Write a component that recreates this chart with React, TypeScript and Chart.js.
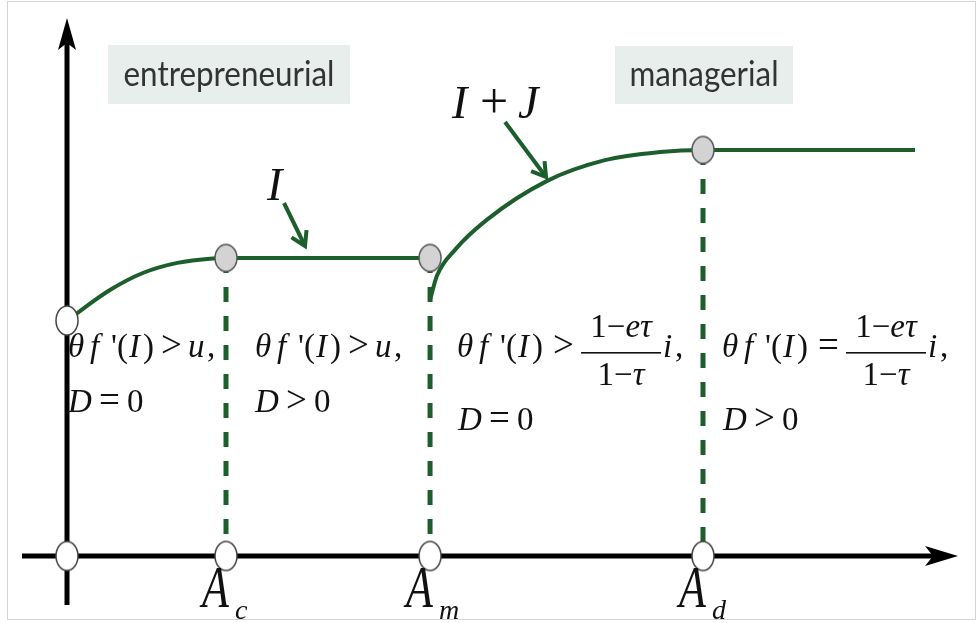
import React, { useEffect, useRef } from "react";
import { Chart, registerables } from "chart.js";
Chart.register(...registerables);

const W = 979;
const H = 623;
const SERIF = '"Liberation Serif", "Times New Roman", serif';
const SANS = 'Lato, "Open Sans", sans-serif';
const GREEN = "#1c5e2c";

// thresholds on the wealth axis: origin, A_c, A_m, A_d
const thresholdX = [0, 3, 6.85, 12];
const thresholdSub = ["", "c", "m", "d"];
const xMax = 16;
const yMax = 10;

// I curve (entrepreneurial)
const iX = [0, 0.81, 1.43, 2.08, 2.75, 3.0, 6.85];
const iY = [5.8, 6.55, 6.97, 7.22, 7.33, 7.34, 7.34];
// I + J curve (managerial)
const ijX = [6.85, 6.98, 7.32, 7.92, 9.06, 10.15, 11.19, 12, 16];
const ijY = [6.31, 6.9, 7.54, 8.28, 9.24, 9.75, 9.95, 10, 10];

// kink points (gray markers)
const kinkX = [3, 6.85, 12];
const kinkY = [7.34, 7.34, 10];
// open markers
const openX = [0, 0, 3, 6.85, 12];
const openY = [5.8, 0, 0, 0, 0];

const regionLabels = ["entrepreneurial", "managerial"];

function ellipseImg(w: number, h: number, fill: string, stroke: string) {
  const c = document.createElement("canvas");
  c.width = w + 4;
  c.height = h + 4;
  const g = c.getContext("2d")!;
  g.beginPath();
  g.ellipse(c.width / 2, c.height / 2, w / 2, h / 2, 0, 0, Math.PI * 2);
  g.fillStyle = fill;
  g.fill();
  g.lineWidth = 1.5;
  g.strokeStyle = stroke;
  g.stroke();
  return c;
}

type Seg = [string, boolean];
type Glyph = [string, boolean, number, number?];

function drawSegs(ctx: CanvasRenderingContext2D, segs: Seg[], x: number, y: number, size: number) {
  for (const [t, it] of segs) {
    ctx.font = `${it ? "italic " : ""}${size}px ${SERIF}`;
    ctx.fillText(t, x, y);
    x += ctx.measureText(t).width;
  }
  return x;
}
function measureSegs(ctx: CanvasRenderingContext2D, segs: Seg[], size: number) {
  let w = 0;
  for (const [t, it] of segs) {
    ctx.font = `${it ? "italic " : ""}${size}px ${SERIF}`;
    w += ctx.measureText(t).width;
  }
  return w;
}
function drawGlyphs(ctx: CanvasRenderingContext2D, gl: Glyph[], x: number, y: number, size: number) {
  for (const [t, it, dx, sz] of gl) {
    ctx.font = `${it ? "italic " : ""}${sz ?? size}px ${SERIF}`;
    ctx.fillText(t, x + dx, y);
  }
}

function drawArrow(ctx: CanvasRenderingContext2D, x0: number, y0: number, x1: number, y1: number) {
  ctx.beginPath();
  ctx.moveTo(x0, y0);
  ctx.lineTo(x1, y1);
  ctx.stroke();
  const a = Math.atan2(y1 - y0, x1 - x0);
  const L = 16;
  ctx.beginPath();
  ctx.moveTo(x1 - L * Math.cos(a - 0.55), y1 - L * Math.sin(a - 0.55));
  ctx.lineTo(x1, y1);
  ctx.lineTo(x1 - L * Math.cos(a + 0.55), y1 - L * Math.sin(a + 0.55));
  ctx.stroke();
}

const REL = 37;
const lhs: Glyph[] = [
  ["θ", true, 0],
  ["f", true, 22],
  ["'", false, 43],
  ["(", false, 49],
  ["I", true, 61],
  [")", false, 75],
];
const dLine = (rel: string): Glyph[] => [
  ["D", true, 0],
  [rel, false, 31, REL],
  ["0", false, 59],
];

const diagramPlugin = {
  id: "diagram",
  beforeDatasetsDraw(chart: any) {
    const ctx: CanvasRenderingContext2D = chart.ctx;
    const xs = chart.scales.x;
    const ys = chart.scales.y;
    const ox = xs.getPixelForValue(0);
    const oy = ys.getPixelForValue(0);
    ctx.save();
    // frame
    ctx.strokeStyle = "#d4d4d4";
    ctx.lineWidth = 1;
    ctx.strokeRect(7.5, 1.5, 968, 618);
    // boxes
    ctx.fillStyle = "#e7eeeb";
    ctx.fillRect(108, 45, 242, 59);
    ctx.fillRect(615, 46, 178, 58);
    ctx.fillStyle = "#333";
    ctx.textBaseline = "alphabetic";
    ctx.textAlign = "center";
    ctx.font = `26px ${SANS}`;
    const w1 = ctx.measureText(regionLabels[0]).width;
    const s1 = (26 * 211) / w1;
    ctx.save();
    ctx.translate(229, 86);
    ctx.scale(1, 1.12);
    ctx.font = `${s1}px ${SANS}`;
    ctx.fillText(regionLabels[0], 0, 0);
    ctx.restore();
    ctx.save();
    ctx.translate(704, 86);
    ctx.scale(1, 1.12);
    ctx.font = `${s1}px ${SANS}`;
    ctx.fillText(regionLabels[1], 0, 0);
    ctx.restore();
    ctx.textAlign = "left";
    // axes
    ctx.strokeStyle = "#000";
    ctx.fillStyle = "#000";
    ctx.lineWidth = 5;
    ctx.beginPath();
    ctx.moveTo(ox, oy + 49);
    ctx.lineTo(ox, 40);
    ctx.stroke();
    ctx.beginPath();
    ctx.moveTo(22, oy);
    ctx.lineTo(940, oy);
    ctx.stroke();
    ctx.beginPath();
    ctx.moveTo(ox, 18);
    ctx.lineTo(ox + 9, 50);
    ctx.lineTo(ox, 43);
    ctx.lineTo(ox - 9, 50);
    ctx.closePath();
    ctx.fill();
    ctx.beginPath();
    ctx.moveTo(958, oy);
    ctx.lineTo(925, oy - 10);
    ctx.lineTo(933, oy);
    ctx.lineTo(925, oy + 10);
    ctx.closePath();
    ctx.fill();
    ctx.restore();
  },
  afterDatasetsDraw(chart: any) {
    const ctx: CanvasRenderingContext2D = chart.ctx;
    const xs = chart.scales.x;
    const ys = chart.scales.y;
    const oy = ys.getPixelForValue(0);
    ctx.save();
    ctx.fillStyle = "#111";
    ctx.textBaseline = "alphabetic";
    ctx.textAlign = "left";
    const fs = 33;
    // axis labels A_c, A_m, A_d
    for (let k = 1; k < thresholdX.length; k++) {
      const px = xs.getPixelForValue(thresholdX[k]);
      ctx.save();
      ctx.translate(px - 24, oy + 51);
      ctx.scale(1, 1.35);
      ctx.font = `italic 44px ${SERIF}`;
      ctx.fillText("A", 0, 0);
      ctx.restore();
      ctx.font = `italic 28px ${SERIF}`;
      ctx.fillText(thresholdSub[k], px + 9, oy + 63);
    }
    // region conditions
    const r = thresholdX.map((v) => xs.getPixelForValue(v));
    const ineqU: Glyph[] = [...lhs, [">", false, 93, REL], ["u", true, 120], [",", false, 139]];
    drawGlyphs(ctx, ineqU, r[0] + 1, 357, fs);
    drawGlyphs(ctx, dLine("="), r[0] + 1, 412, fs);
    drawGlyphs(ctx, ineqU, r[1] + 29, 357, fs);
    drawGlyphs(ctx, dLine(">"), r[1] + 29, 412, fs);
    const num: Seg[] = [["1−", false], ["eτ", true]];
    const den: Seg[] = [["1−", false], ["τ", true]];
    const frac = (sign: string, x: number) => {
      drawGlyphs(ctx, [...lhs, [sign, false, 96, REL]], x, 357, fs);
      const xx = x + 124;
      const fw = 80;
      const nw = measureSegs(ctx, num, fs);
      const dw = measureSegs(ctx, den, fs);
      drawSegs(ctx, num, xx + (fw - nw) / 2, 337, fs);
      drawSegs(ctx, den, xx + (fw - dw) / 2, 385, fs);
      ctx.fillRect(xx, 352, fw, 1.6);
      drawGlyphs(ctx, [["i", true, 0], [",", false, 12]], xx + fw + 2, 357, fs);
    };
    frac(">", r[2] + 27);
    drawGlyphs(ctx, dLine("="), r[2] + 28, 430, fs);
    frac("=", r[3] + 19);
    drawGlyphs(ctx, dLine(">"), r[3] + 20, 430, fs);
    // curve labels
    drawSegs(ctx, [["I", true]], 267, 200, 46);
    drawGlyphs(ctx, [["I", true, 0], ["+", false, 28, 50], ["J", true, 66]], 452, 118, 46);
    ctx.strokeStyle = GREEN;
    ctx.lineWidth = 4;
    ctx.lineCap = "butt";
    drawArrow(ctx, 284, 203, 305, 246);
    drawArrow(ctx, 505, 122, 546, 177);
    ctx.restore();
  },
};

export default function App() {
  const ref = useRef<HTMLCanvasElement>(null);
  useEffect(() => {
    const gray = ellipseImg(22, 27, "#d3d3d3", "#555");
    const white = ellipseImg(22, 29, "#ffffff", "#444");
    const line = (xs: number[], ys: number[]) => xs.map((x, k) => ({ x, y: ys[k] }));
    const dashed = kinkX.map((x, k) => ({
      type: "line" as const,
      data: [
        { x, y: kinkY[k] },
        { x, y: 0 },
      ],
      borderColor: GREEN,
      borderWidth: 5,
      borderDash: [15, 14],
      pointRadius: 0,
      showLine: true,
      clip: false as any,
      order: 3,
    }));
    const chart = new Chart(ref.current!, {
      type: "line",
      data: {
        datasets: [
          {
            data: line(iX, iY),
            borderColor: GREEN,
            borderWidth: 4,
            pointRadius: 0,
            cubicInterpolationMode: "monotone",
            clip: false as any,
            order: 2,
          },
          {
            data: line(ijX, ijY),
            borderColor: GREEN,
            borderWidth: 4,
            pointRadius: 0,
            cubicInterpolationMode: "monotone",
            clip: false as any,
            order: 2,
          },
          ...dashed,
          {
            data: line(kinkX, kinkY),
            showLine: false,
            pointStyle: gray as any,
            pointRadius: 12,
            clip: false as any,
            order: 0,
          },
          {
            data: line(openX, openY),
            showLine: false,
            pointStyle: white as any,
            pointRadius: 12,
            clip: false as any,
            order: 0,
          },
        ] as any,
      },
      options: {
        animation: false,
        responsive: false,
        devicePixelRatio: 1,
        layout: { padding: { left: 67, right: 64, top: 150, bottom: 67 } },
        scales: {
          x: { type: "linear", min: 0, max: xMax, display: false },
          y: { type: "linear", min: 0, max: yMax, display: false },
        },
        plugins: { legend: { display: false }, tooltip: { enabled: false } },
        events: [],
      },
      plugins: [diagramPlugin],
    });
    return () => chart.destroy();
  }, []);
  return (
    <div style={{ position: "absolute", left: 0, top: 0, width: W, height: H, background: "#fff" }}>
      <canvas ref={ref} width={W} height={H} style={{ width: W, height: H, display: "block" }} />
    </div>
  );
}
